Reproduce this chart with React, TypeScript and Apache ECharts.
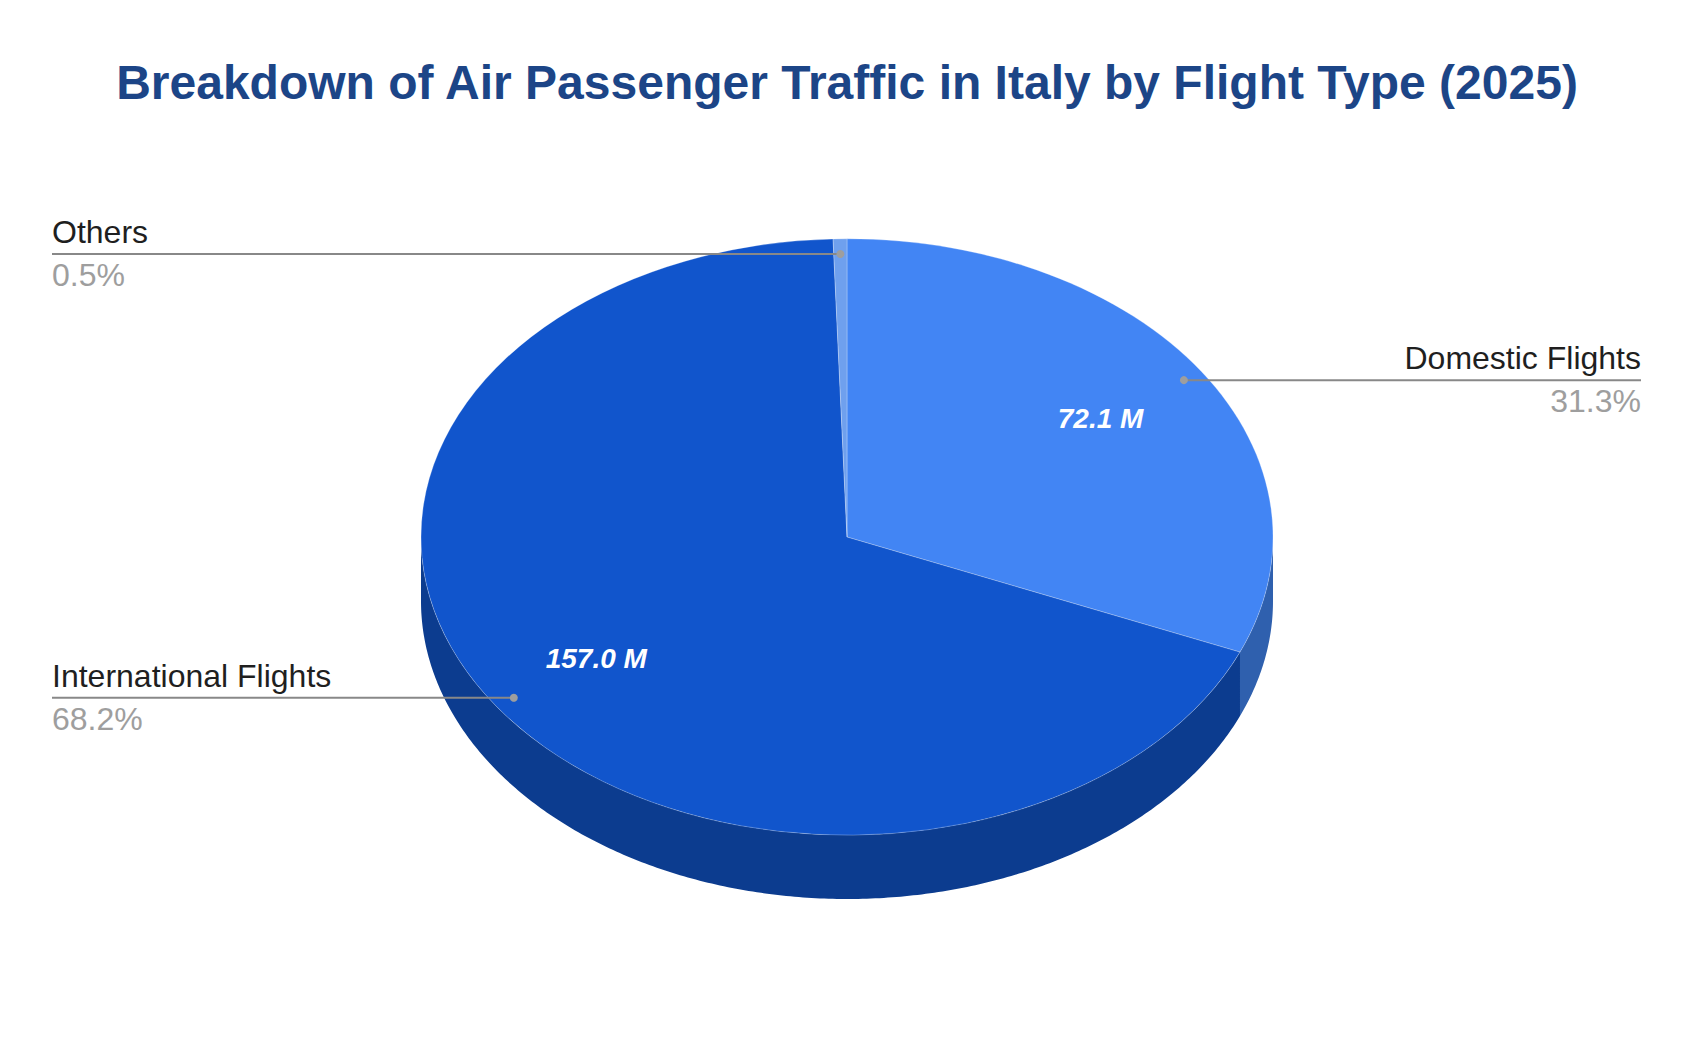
import { useEffect, useRef } from 'react'
import * as echarts from 'echarts'

const categories = ['Domestic Flights', 'International Flights', 'Others']
const passengers = [72.1, 157.0, 1.2] // millions
const topColors = ['#4285f4', '#1155cc', '#6fa0ee']
const sideColors = ['#2f60ae', '#0c3c8f', '#4a78c4']

const FONT = 'Arial, "Liberation Sans", sans-serif'

// pie geometry (tilted disc)
const CX = 847
const CY = 537
const RX = 426
const RY = 298
const DEPTH = 64
const LEFT_X = 52
const RIGHT_X = 1641

const total = passengers.reduce((a, b) => a + b, 0)
const startAngles: number[] = []
const endAngles: number[] = []
{
  let acc = 0
  passengers.forEach((v) => {
    startAngles.push((acc / total) * Math.PI * 2)
    acc += v
    endAngles.push((acc / total) * Math.PI * 2)
  })
}

// theta measured clockwise from 12 o'clock
const px = (t: number, f = 1) => CX + RX * f * Math.sin(t)
const py = (t: number, f = 1) => CY - RY * f * Math.cos(t)

function renderSide(params: any) {
  const i = params.dataIndex
  const a = Math.max(startAngles[i], Math.PI / 2)
  const b = Math.min(endAngles[i], (Math.PI * 3) / 2)
  if (b <= a) return { type: 'group', children: [] }
  const steps = Math.max(2, Math.ceil((b - a) / 0.01))
  const top: number[][] = []
  const bottom: number[][] = []
  for (let s = 0; s <= steps; s++) {
    const t = a + ((b - a) * s) / steps
    top.push([px(t), py(t)])
    bottom.push([px(t), py(t) + DEPTH])
  }
  return {
    type: 'polygon',
    shape: { points: top.concat(bottom.reverse()) },
    style: { fill: sideColors[i] },
  }
}

function renderTop(params: any) {
  const i = params.dataIndex
  return {
    type: 'group',
    x: CX,
    y: CY,
    scaleY: RY / RX,
    children: [
      {
        type: 'sector',
        shape: {
          cx: 0,
          cy: 0,
          r0: 0,
          r: RX,
          startAngle: startAngles[i] - Math.PI / 2,
          endAngle: endAngles[i] - Math.PI / 2,
          clockwise: true,
        },
        style: {
          fill: topColors[i],
          stroke: 'rgba(255,255,255,0.3)',
          lineWidth: 1,
          strokeNoScale: true,
        },
      },
    ],
  }
}

function renderLabel(params: any, api: any) {
  const i = params.dataIndex
  const value = api.value(0)
  const pct = (value / total) * 100
  const mid = (startAngles[i] + endAngles[i]) / 2
  const left = Math.sin(mid) < 0
  const dx = px(mid, 0.95)
  const dy = py(mid, 0.95)
  const edge = left ? LEFT_X : RIGHT_X
  const children: any[] = [
    {
      type: 'line',
      shape: { x1: edge, y1: dy, x2: dx, y2: dy },
      style: { stroke: '#888888', lineWidth: 2 },
    },
    {
      type: 'circle',
      shape: { cx: dx, cy: dy, r: 4 },
      style: { fill: '#9e9e9e' },
    },
    {
      type: 'text',
      x: edge,
      y: dy - 22,
      style: {
        text: categories[i],
        fill: '#1f1f1f',
        fontSize: 32,
        fontFamily: FONT,
        align: left ? 'left' : 'right',
        verticalAlign: 'middle',
      },
    },
    {
      type: 'text',
      x: edge,
      y: dy + 21,
      style: {
        text: pct.toFixed(1) + '%',
        fill: '#9e9e9e',
        fontSize: 32,
        fontFamily: FONT,
        align: left ? 'left' : 'right',
        verticalAlign: 'middle',
      },
    },
  ]
  if (pct > 5) {
    children.push({
      type: 'text',
      x: px(mid, 0.715),
      y: py(mid, 0.72),
      style: {
        text: value.toFixed(1) + ' M',
        fill: '#ffffff',
        fontSize: 28,
        fontWeight: 'bold',
        fontStyle: 'italic',
        fontFamily: FONT,
        align: 'center',
        verticalAlign: 'middle',
      },
    })
  }
  return { type: 'group', children }
}

export default function App() {
  const chartRef = useRef<HTMLDivElement>(null)

  useEffect(() => {
    if (!chartRef.current) return
    const chart = echarts.init(chartRef.current, null, { renderer: 'svg' })

    const seriesData = passengers.map((v, i) => ({ name: categories[i], value: v }))

    chart.setOption({
      animation: false,
      backgroundColor: '#ffffff',
      title: {
        text: 'Breakdown of Air Passenger Traffic in Italy by Flight Type (2025)',
        left: 'center',
        top: 53,
        textStyle: {
          color: '#1c4587',
          fontSize: 48,
          fontWeight: 'bold',
          fontFamily: FONT,
          lineHeight: 48,
        },
      },
      series: [
        { type: 'custom', coordinateSystem: 'none', z: 1, data: seriesData, renderItem: renderSide },
        { type: 'custom', coordinateSystem: 'none', z: 2, data: seriesData, renderItem: renderTop },
        { type: 'custom', coordinateSystem: 'none', z: 3, data: seriesData, renderItem: renderLabel },
      ],
    })

    const handleResize = () => chart.resize()
    window.addEventListener('resize', handleResize)
    return () => {
      window.removeEventListener('resize', handleResize)
      chart.dispose()
    }
  }, [])

  return (
    <div
      ref={chartRef}
      style={{ position: 'fixed', left: 0, top: 0, width: '1694px', height: '1048px' }}
    />
  )
}
